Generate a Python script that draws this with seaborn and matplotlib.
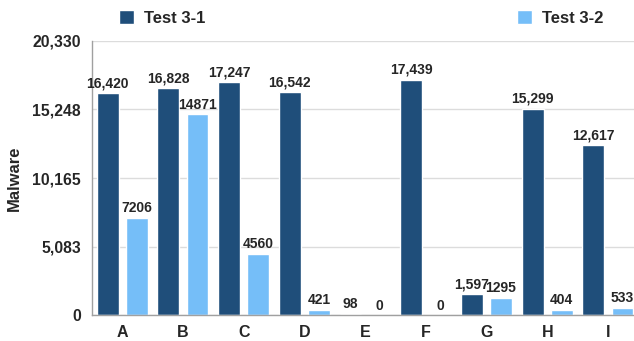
import matplotlib
matplotlib.use("Agg")
import matplotlib.pyplot as plt
import seaborn as sns
import pandas as pd

categories = ["A", "B", "C", "D", "E", "F", "G", "H", "I"]
test_3_1 = [16420, 16828, 17247, 16542, 98, 17439, 1597, 15299, 12617]
test_3_2 = [7206, 14871, 4560, 421, 0, 0, 1295, 404, 533]
series_names = ["Test 3-1", "Test 3-2"]
y_ticks = [0, 5083, 10165, 15248, 20330]

dark_blue = "#1F4E7A"
light_blue = "#75BEF8"

df = pd.DataFrame({
    "category": categories * 2,
    "value": test_3_1 + test_3_2,
    "series": [series_names[0]] * len(categories) + [series_names[1]] * len(categories),
})

sns.set_theme(style="white")
plt.rcParams["font.family"] = ["Liberation Sans", "DejaVu Sans"]
plt.rcParams["font.weight"] = "bold"

fig = plt.figure(figsize=(6.34, 3.41), dpi=100)
ax = fig.add_axes([0.145, 0.075, 0.855, 0.806])

sns.barplot(data=df, x="category", y="value", hue="series",
            palette=[dark_blue, light_blue], width=0.96, gap=0.25,
            saturation=1, ax=ax, legend=True)

ax.set_ylim(0, 20330)
ax.set_xlim(-0.5, 8.43)
ax.set_yticks(y_ticks)
ax.set_yticklabels([f"{t:,}" for t in y_ticks], fontsize=11.3, fontweight="bold")
ax.tick_params(axis="y", length=0, pad=8)
ax.tick_params(axis="x", length=0, pad=7)
for lbl in ax.get_xticklabels():
    lbl.set_fontsize(11.5)
    lbl.set_fontweight("bold")
ax.yaxis.grid(True, color="#dcdcdc", linewidth=1)
ax.set_axisbelow(True)

for side in ["top", "right"]:
    ax.spines[side].set_visible(False)
for side in ["left", "bottom"]:
    ax.spines[side].set_color("#a0a0a0")
    ax.spines[side].set_linewidth(1)

ax.set_xlabel("")
ax.set_ylabel("Malware", fontsize=12, fontweight="bold", labelpad=10)
ax.yaxis.set_label_coords(-0.13, 0.5)

containers = ax.containers
ax.bar_label(containers[0], labels=[f"{v:,}" for v in test_3_1],
             fontsize=10, fontweight="bold", padding=2)
ax.bar_label(containers[1], labels=[f"{v}" for v in test_3_2],
             fontsize=10, fontweight="bold", padding=2)

ax.legend(loc="upper left", bbox_to_anchor=(0.023, 1.165), ncol=2, frameon=False,
          handlelength=0.9, handleheight=0.9, handletextpad=0.6,
          columnspacing=18.7, prop={"size": 12, "weight": "bold"})

fig.savefig("out.png", dpi=100)
